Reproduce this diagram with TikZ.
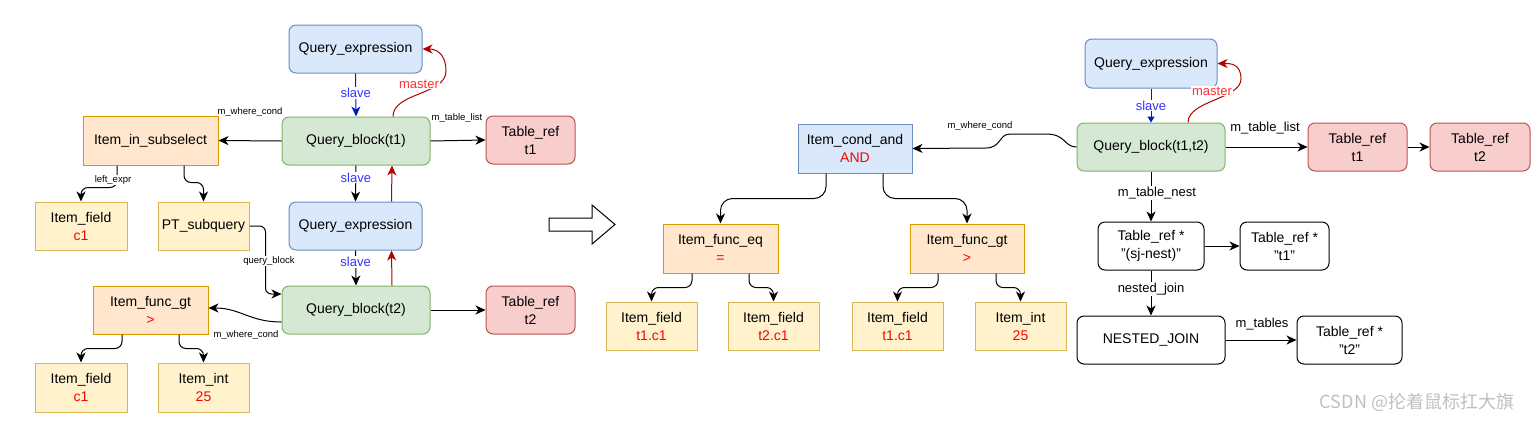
\documentclass[tikz,border=0pt]{standalone}
\usepackage{fontspec}
\setmainfont{Liberation Sans}
\newfontfamily\cjk{Noto Sans CJK SC}
\usetikzlibrary{arrows.meta}
\definecolor{qefill}{HTML}{DAE8FC}\definecolor{qedraw}{HTML}{6C8EBF}
\definecolor{qbfill}{HTML}{D5E8D4}\definecolor{qbdraw}{HTML}{82B366}
\definecolor{orfill}{HTML}{FFE6CC}\definecolor{ordraw}{HTML}{D79B00}
\definecolor{yefill}{HTML}{FFF2CC}\definecolor{yedraw}{HTML}{D6B656}
\definecolor{trfill}{HTML}{F8CECC}\definecolor{trdraw}{HTML}{B85450}
\definecolor{valred}{HTML}{FF0000}
\definecolor{slavetxt}{HTML}{3333FF}
\definecolor{slaveline}{HTML}{001DBC}
\definecolor{masterline}{HTML}{B20000}
\definecolor{mastertxt}{HTML}{FF3333}
\newcommand\bxfont{\fontsize{14}{18}\selectfont}
\newcommand\lbfont{\fontsize{13}{15}\selectfont}
\newcommand\smfont{\fontsize{9.5}{11}\selectfont}
\newcommand\val[1]{\textcolor{valred}{#1}}
\tikzset{
  box/.style={draw, line width=1pt, inner sep=0pt, align=center, font=\bxfont, minimum height=48pt},
  qe/.style={box, fill=qefill, draw=qedraw, rounded corners=7pt, minimum width=133pt},
  qb/.style={box, fill=qbfill, draw=qbdraw, rounded corners=7pt, minimum width=148pt},
  orbox/.style={box, fill=orfill, draw=ordraw},
  yebox/.style={box, fill=yefill, draw=yedraw, minimum width=91pt},
  trbox/.style={box, fill=trfill, draw=trdraw, rounded corners=7pt},
  wbox/.style={box, fill=white, draw=black, rounded corners=7pt},
  cbox/.style={box, fill=qefill, draw=qedraw},
  arr/.style={line width=1pt, -{Stealth[length=10pt,width=9pt,inset=3pt]}},
  slavearr/.style={line width=1pt, draw=slaveline, -{Stealth[length=10pt,width=9pt,inset=3pt]}},
  slavearrR/.style={line width=1pt, draw=slaveline, -{Triangle[length=6pt,width=7pt]}},
  masterarr/.style={line width=1pt, draw=masterline, -{Stealth[length=10pt,width=9pt,inset=3pt]}},
  lbl/.style={font=\lbfont, fill=white, inner sep=1pt},
  slavelbl/.style={lbl, text=slavetxt},
  masterlbl/.style={lbl, text=mastertxt},
  small/.style={font=\smfont, inner sep=1pt},
  smallw/.style={small, fill=white},
}
\begin{document}
\begin{tikzpicture}[x=1pt,y=-1pt]
\useasboundingbox (0,0) rectangle (1538,423);
% ---------- left ----------
\node[qe] (qeA) at (355.5,49) {Query\_expression};
\node[qb] (qbA) at (356,141) {Query\_block(t1)};
\node[orbox, minimum width=135pt, minimum height=49pt] (iis) at (150.5,140.5) {Item\_in\_subselect};
\node[trbox, minimum width=89pt] (trA1) at (530.5,140) {Table\_ref\\t1};
\node[yebox, minimum width=92pt] (ifA) at (81,226) {Item\_field\\\val{c1}};
\node[yebox] (pts) at (203.5,226) {PT\_subquery};
\node[qe] (qeB) at (355.5,226) {Query\_expression};
\node[qb] (qbB) at (356,310) {Query\_block(t2)};
\node[orbox, minimum width=115pt] (gtA) at (150.5,310) {Item\_func\_gt\\\val{>}};
\node[trbox, minimum width=89pt] (trA2) at (530.5,310) {Table\_ref\\t2};
\node[yebox, minimum width=92pt, minimum height=49pt] (ifB) at (81,387.5) {Item\_field\\\val{c1}};
\node[yebox, minimum height=49pt] (intA) at (203.5,387.5) {Item\_int\\\val{25}};

\draw[slavearr] (qeA.south) -- (qbA.north) node[pos=0.45, slavelbl] {slave};
\coordinate (mA) at (446,71);
\draw[masterarr] ([xshift=37pt]qbA.north) .. controls +(0,-24) and +(0,24) .. (mA) .. controls +(0,-17) and +(14,0) .. (qeA.east);
\node[masterlbl] (mlA) at (419,84) {master};
\draw[arr] (qbA.west) -- (iis.east) node[small] at (250,112) {m\_where\_cond};
\draw[arr] (qbA.east) -- (trA1.west) node[small] at (457,118) {m\_table\_list};
\draw[arr] (qbA.south) -- (qeB.north) node[pos=0.33, slavelbl] {slave};
\draw[masterarr] ([xshift=36pt]qeB.north) -- ([xshift=36pt]qbA.south);
\draw[arr] (qeB.south) -- (qbB.north) node[pos=0.33, slavelbl] {slave};
\draw[masterarr] ([xshift=36pt]qbB.north) -- ([xshift=36pt]qeB.south);
\draw[arr, rounded corners=7pt] ([xshift=-33.5pt]iis.south) -- ++(0,22) -| (ifA.north);
\node[smallw] (le) at (113,180) {left\_expr};
\draw[arr, rounded corners=7pt] ([xshift=33.5pt]iis.south) -- ++(0,17) -| (pts.north);
\draw[arr, rounded corners=6pt] (pts.east) -| ([xshift=-16pt,yshift=16pt]qbB.west) -- ([yshift=16pt]qbB.west);
\node[smallw] (qbl) at (269,261) {query\_block};
\draw[arr] ([yshift=-12pt]qbB.west) .. controls +(-32,0) and +(32,0) .. ([yshift=2pt]gtA.east);
\node[small] (mwc2) at (246,335) {m\_where\_cond};
\draw[arr] (qbB.east) -- (trA2.west);
\draw[arr, rounded corners=7pt] ([xshift=-28.5pt]gtA.south) -- ++(0,14) -| (ifB.north);
\draw[arr, rounded corners=7pt] ([xshift=28.5pt]gtA.south) -- ++(0,14) -| (intA.north);

% ---------- big arrow ----------
\draw[line width=1pt, fill=white] (549,218) -- (592,218) -- (592,205) -- (615,224.5) -- (592,244) -- (592,231) -- (549,231) -- cycle;

% ---------- right ----------
\node[qe, minimum width=132pt, minimum height=49pt] (qeR) at (1151,63.5) {Query\_expression};
\node[qb] (qbR) at (1151,147) {Query\_block(t1,t2)};
\node[trbox, minimum width=99pt] (trR1) at (1357.5,147) {Table\_ref\\t1};
\node[trbox, minimum width=100pt] (trR2) at (1480,147) {Table\_ref\\t2};
\node[wbox, minimum width=106pt] (sj) at (1151,246) {Table\_ref *\\"(sj-nest)"};
\node[wbox, minimum width=89pt] (st1) at (1284.5,246) {Table\_ref *\\"t1"};
\node[wbox, minimum width=148pt] (nj) at (1151,340) {NESTED\_JOIN};
\node[wbox, minimum width=105pt] (st2) at (1349.5,340) {Table\_ref *\\"t2"};
\node[cbox, minimum width=114pt, minimum height=49pt] (cand) at (855,148.5) {Item\_cond\_and\\\val{AND}};
\node[orbox, minimum width=115pt, minimum height=49pt] (eq) at (720.5,248.5) {Item\_func\_eq\\\val{=}};
\node[orbox, minimum width=114pt, minimum height=49pt] (gtR) at (967,248.5) {Item\_func\_gt\\\val{>}};
\node[yebox] (f1) at (651.5,326) {Item\_field\\\val{t1.c1}};
\node[yebox] (f2) at (773.5,326) {Item\_field\\\val{t2.c1}};
\node[yebox] (f3) at (897.5,326) {Item\_field\\\val{t1.c1}};
\node[yebox] (i25) at (1020.5,326) {Item\_int\\\val{25}};

\draw[slavearrR] (qeR.south) -- (qbR.north) node[pos=0.5, slavelbl] {slave};
\coordinate (mR) at (1241,79);
\draw[masterarr] ([xshift=37pt]qbR.north) .. controls +(0,-22) and +(0,20) .. (mR) .. controls +(0,-16) and +(12,0) .. (qeR.east);
\node[masterlbl] (mlR) at (1212,91) {master};
\draw[arr] (qbR.west) .. controls (1064,147) and (1066,134) .. (1046,134) -- (1010,134) .. controls (999,134) and (1001,148) .. (986,148) -- (cand.east);
\node[small] (mwcR) at (980,126) {m\_where\_cond};
\draw[arr] (qbR.east) -- (trR1.west) node[lbl, fill=none] at (1265,128) {m\_table\_list};
\draw[arr] (trR1.east) -- (trR2.west);
\draw[arr] (qbR.south) -- (sj.north) node[pos=0.43, lbl, xshift=6pt] {m\_table\_nest};
\draw[arr] (sj.east) -- (st1.west);
\draw[arr] (sj.south) -- (nj.north) node[pos=0.41, lbl] {nested\_join};
\draw[arr] (nj.east) -- (st2.west) node[lbl, fill=none] at (1262,324) {m\_tables};
\draw[arr, rounded corners=12pt] ([xshift=-29pt]cand.south) -- ++(0,25) -| (eq.north);
\draw[arr, rounded corners=12pt] ([xshift=28pt]cand.south) -- ++(0,25) -| (gtR.north);
\draw[arr, rounded corners=7pt] ([xshift=-28.5pt]eq.south) -- ++(0,14) -| (f1.north);
\draw[arr, rounded corners=7pt] ([xshift=28.5pt]eq.south) -- ++(0,14) -| (f2.north);
\draw[arr, rounded corners=7pt] ([xshift=-29pt]gtR.south) -- ++(0,14) -| (f3.north);
\draw[arr, rounded corners=7pt] ([xshift=29pt]gtR.south) -- ++(0,14) -| (i25.north);

\node[text=gray!50, font=\cjk\fontsize{18}{20}\selectfont] (wm) at (1417,402) {CSDN @抡着鼠标扛大旗};
\end{tikzpicture}
\end{document}
